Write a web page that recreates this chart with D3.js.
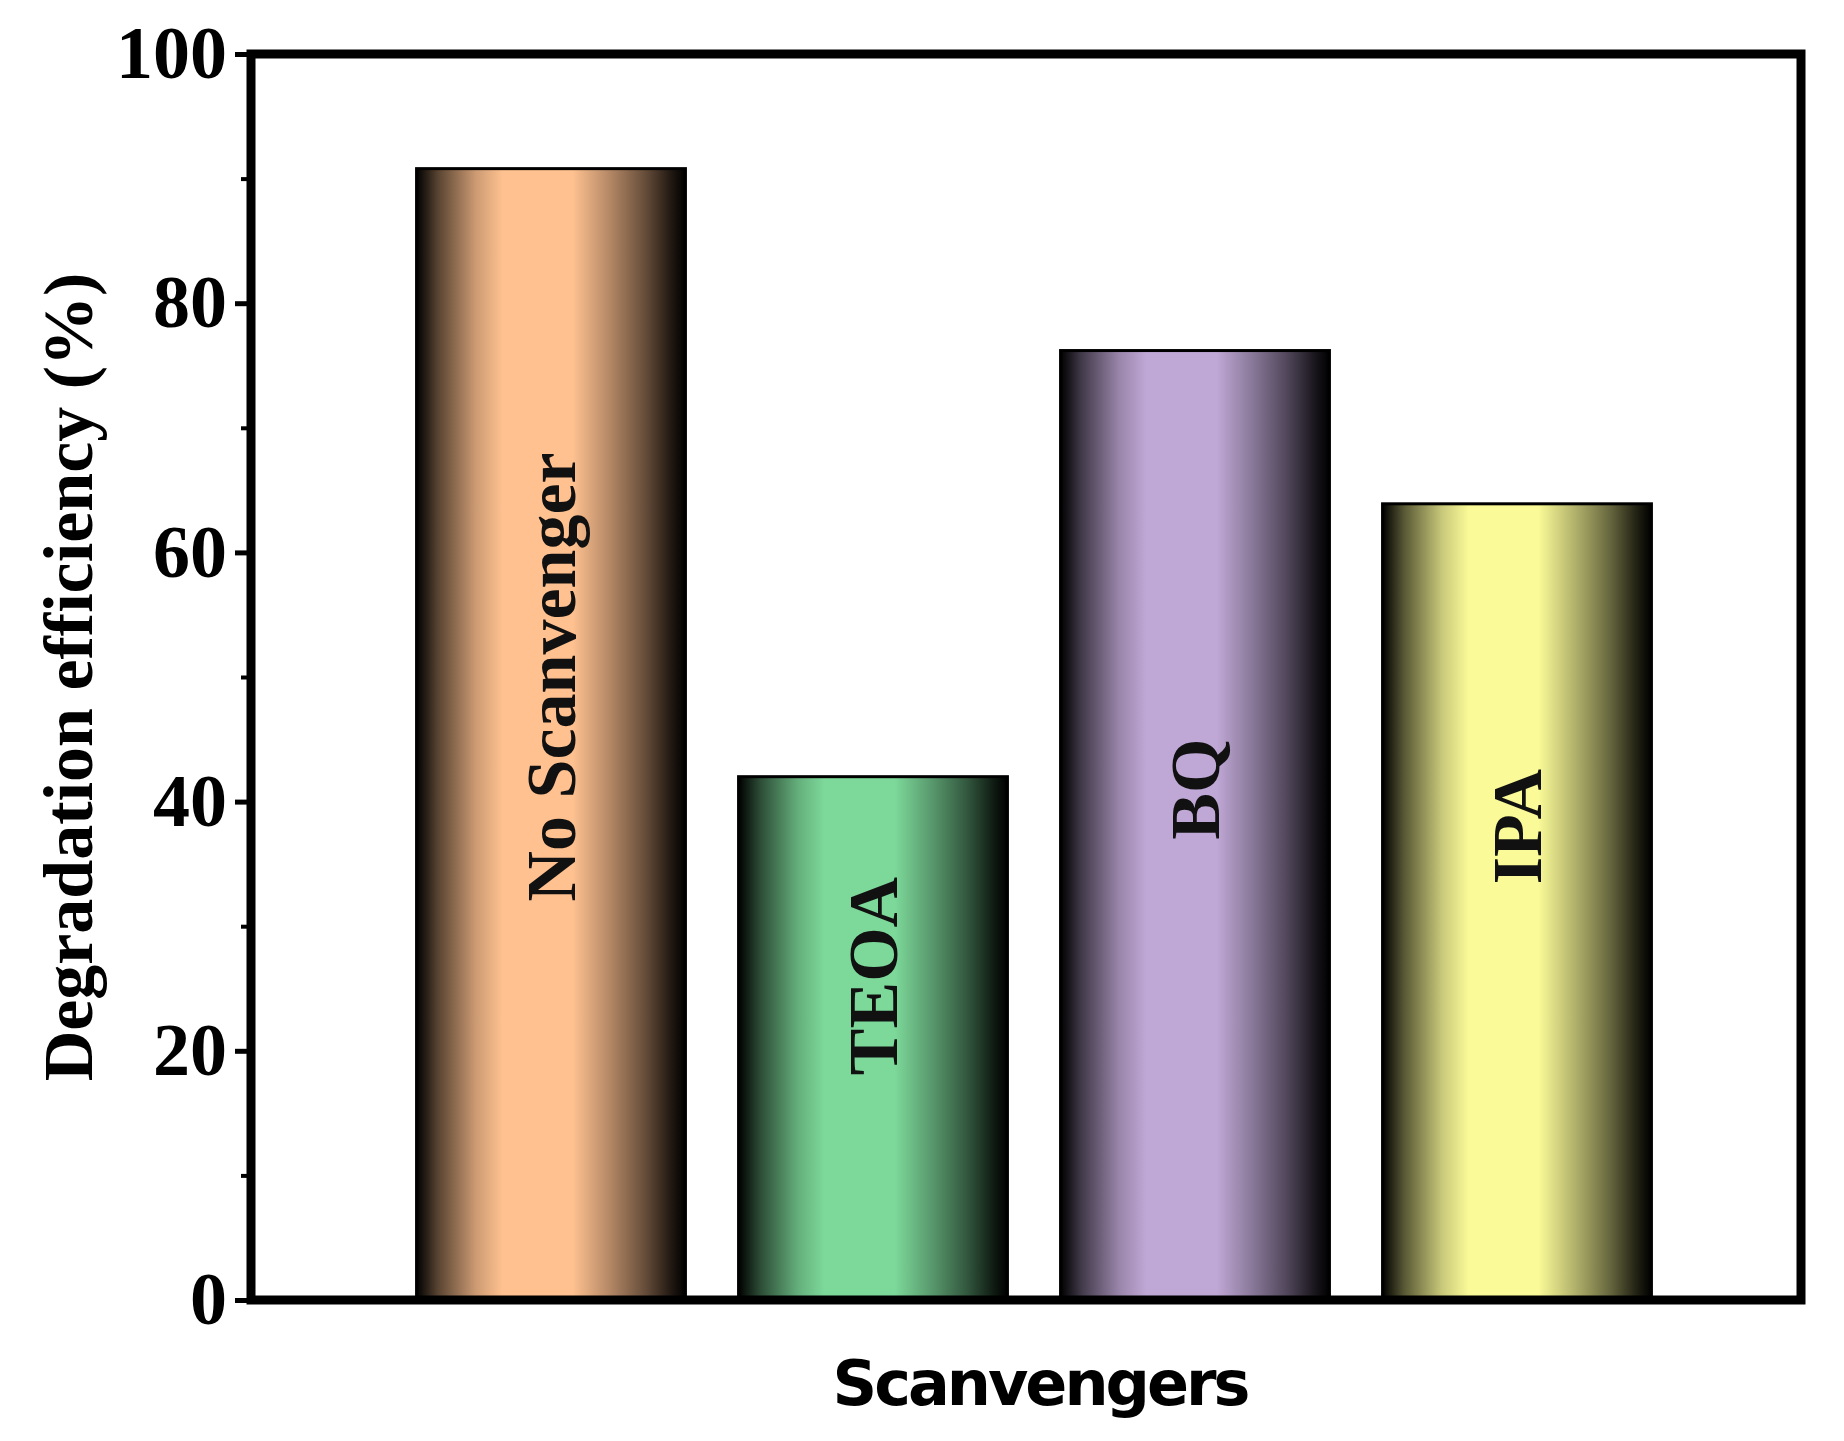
<!DOCTYPE html><html><head><meta charset="utf-8">
<script src="https://cdn.jsdelivr.net/npm/d3@7"></script>
<style>body{margin:0;background:#fff} .sf{font-family:"Liberation Serif","Times New Roman",Times,serif;font-weight:bold}</style></head><body>
<svg id="c" width="1844" height="1441"></svg>
<script>
const categories = ["No Scanvenger","TEOA","BQ","IPA"];
const values = [90.8, 42.0, 76.2, 63.9];
const colors = ["#FFC190","#7DD99A","#C0A8D6","#FAFA98"];
const yTicks = [0,20,40,60,80,100];
const labelY = [50, 26, 41, 38];

const svg = d3.select("#c");
const L=251,R=1801,T=54,B=1300;
const y = d3.scaleLinear().domain([0,100]).range([B,T]);
const x = d3.scaleBand().domain(categories).range([390,1678]).paddingInner(0.165).paddingOuter(0.0825);
const defs = svg.append("defs");
colors.forEach((c,i)=>{
  const g = defs.append("linearGradient").attr("id","g"+i).attr("x1","0").attr("x2","1").attr("y1","0").attr("y2","0");
  const m = t=>d3.interpolateRgb("#000",c)(t);
  [[0,"#000"],[0.08,m(0.35)],[0.22,m(0.8)],[0.32,c],[0.58,c],[0.72,m(0.7)],[0.85,m(0.4)],[0.95,m(0.12)],[1,"#000"]]
   .forEach(([o,col])=>g.append("stop").attr("offset",o).attr("stop-color",col));
});
svg.selectAll("rect.bar").data(values).join("rect").attr("class","bar")
  .attr("x",(d,i)=>x(categories[i])).attr("width",x.bandwidth())
  .attr("y",d=>y(d)).attr("height",d=>B-y(d))
  .attr("fill",(d,i)=>`url(#g${i})`).attr("stroke","#000").attr("stroke-width",3);
svg.selectAll("text.bl").data(categories).join("text").attr("class","bl sf")
  .attr("transform",(d,i)=>`translate(${x(d)+x.bandwidth()/2},${y(labelY[i])}) rotate(-90)`)
  .attr("text-anchor","middle").attr("dominant-baseline","central")
  .attr("font-size",70).attr("fill","#111").text(d=>d);
svg.append("rect").attr("x",L).attr("y",T).attr("width",R-L).attr("height",B-T)
  .attr("fill","none").attr("stroke","#000").attr("stroke-width",9);
const ax = svg.append("g").attr("transform",`translate(${L-4},0)`)
  .call(d3.axisLeft(y).tickValues(yTicks).tickSize(12).tickPadding(8).tickFormat(d3.format("d")));
ax.select(".domain").remove();
ax.selectAll("line").attr("stroke-width",5);
ax.selectAll("text").attr("class","sf").attr("font-size",74).attr("fill","#000");
const minor = d3.range(10,100,20);
svg.append("g").attr("transform",`translate(${L-4},0)`).call(d3.axisLeft(y).tickValues(minor).tickSize(6).tickFormat(""))
  .call(g=>{g.select(".domain").remove();g.selectAll("line").attr("stroke-width",4);});
svg.append("text").attr("class","sf").attr("transform",`translate(68,${(T+B)/2}) rotate(-90)`).attr("text-anchor","middle")
  .attr("dominant-baseline","central").attr("font-size",70).text("Degradation efficiency (%)");
svg.append("text").attr("x",1040).attr("y",1405).attr("text-anchor","middle")
  .style("font","bold 62px 'DejaVu Sans', sans-serif").style("letter-spacing","-3px").text("Scanvengers");
</script></body></html>
